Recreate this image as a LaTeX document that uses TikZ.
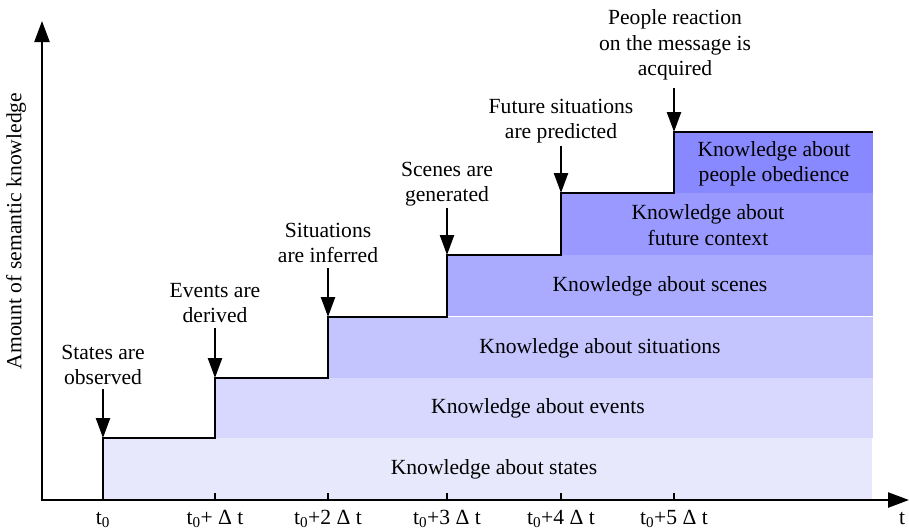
\documentclass[tikz,border=0pt]{standalone}
\usepackage{fontspec}
\setmainfont{Liberation Serif}
\usetikzlibrary{arrows.meta}
\begin{document}
\begin{tikzpicture}[x=1pt,y=-1pt,
  every node/.style={font=\fontsize{21.6}{25.5}\selectfont, inner sep=0pt},
  stairline/.style={line width=2.4pt, line join=miter},
  axis/.style={line width=2.4pt, -{Triangle[length=21pt,width=15pt]}},
  pointer/.style={line width=2.4pt, -{Triangle[length=20pt,width=14pt]}},
  caption/.style={align=center},
  ticklabel/.style={anchor=base},
  tickmark/.style={line width=2.4pt}]
\useasboundingbox (0,0) rectangle (909,531);
\definecolor{cstates}{RGB}{232,232,252}
\definecolor{cevents}{RGB}{216,216,255}
\definecolor{csituations}{RGB}{196,196,255}
\definecolor{cscenes}{RGB}{170,170,255}
\definecolor{cfuture}{RGB}{153,153,255}
\definecolor{cpeople}{RGB}{136,136,255}

% knowledge bands
\fill[cstates]     (103,438) rectangle (872,500);
\fill[cevents]     (215,378) rectangle (873,438);
\fill[csituations] (328,317) rectangle (873,378);
\fill[cscenes]     (447,255) rectangle (873,316);
\fill[cfuture]     (561,193) rectangle (873,255);
\fill[cpeople]     (674,132) rectangle (873,193);

\node at (494,469) {Knowledge about states};
\node at (538,408) {Knowledge about events};
\node at (600,348) {Knowledge about situations};
\node at (660,286) {Knowledge about scenes};
\node[caption] at (708,225) {Knowledge about\\future context};
\node[caption] at (774,164) {Knowledge about\\people obedience};

% step corners
\coordinate (s0) at (103,438);
\coordinate (s1) at (215,378);
\coordinate (s2) at (328,317);
\coordinate (s3) at (447,255);
\coordinate (s4) at (561,193);
\coordinate (s5) at (674,132);
\coordinate (send) at (873,132);
\coordinate (base0) at (103,500);

% staircase
\draw[stairline] (base0) -- (s0) -| (s1) -| (s2) -| (s3) -| (s4) -| (s5) -- (send);

% axes
\coordinate (ytop) at (42,21);
\coordinate (xend) at (909,500);
\draw[axis] (42,501.2) -- (ytop);
\draw[axis] (40.8,500) -- (xend);
\node[rotate=90] (ylab) at (16,231) {Amount of semantic knowledge};
\node[ticklabel] (tt) at (902,524) {t};

% ticks and their labels
\foreach \n/\x/\lab in {0/103/{t\textsubscript{0}},
                       1/215/{t\textsubscript{0}+ Δ t},
                       2/328/{t\textsubscript{0}+2 Δ t},
                       3/447/{t\textsubscript{0}+3 Δ t},
                       4/561/{t\textsubscript{0}+4 Δ t},
                       5/674/{t\textsubscript{0}+5 Δ t}}{
  \draw[tickmark] (\x,500) -- (\x,493);
  \node[ticklabel] (tl\n) at (\x,524) {\lab};
}

% event captions with pointers
\node[caption] (c0) at (103,365) {States are\\observed};
\node[caption] (c1) at (215,303) {Events are\\derived};
\node[caption] (c2) at (328,243) {Situations\\are inferred};
\node[caption] (c3) at (447,184) {Scenes are\\generated};
\node[caption] (c4) at (561,121) {Future situations\\are predicted};
\node[caption] (c5) at (675,45) {People reaction\\on the message is\\acquired};

\draw[pointer] (103,389) -- (s0);
\draw[pointer] (215,328) -- (s1);
\draw[pointer] (328,268) -- (s2);
\draw[pointer] (447,208) -- (s3);
\draw[pointer] (561,146) -- (s4);
\draw[pointer] (674,88) -- (s5);
\end{tikzpicture}
\end{document}
